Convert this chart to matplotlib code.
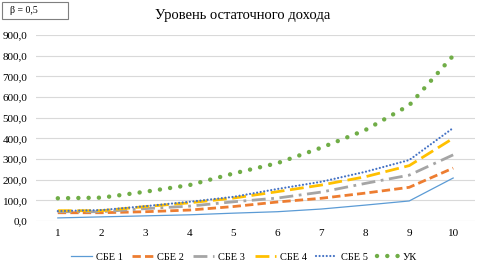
import matplotlib.pyplot as plt
import numpy as np

plt.rcParams['font.family'] = ['Liberation Serif', 'DejaVu Serif']

# --- данные ---
periods = [1, 2, 3, 4, 5, 6, 7, 8, 9, 10]
sbe1 = [15, 20, 25, 30, 38, 45, 58, 77, 97, 208]
sbe2 = [40, 40, 45, 53, 70, 92, 110, 135, 163, 256]
sbe3 = [45, 45, 60, 72, 93, 111, 140, 182, 222, 320]
sbe4 = [50, 50, 70, 88, 111, 142, 174, 214, 268, 400]
sbe5 = [48, 53, 72, 93, 117, 155, 190, 238, 295, 450]
uk = [110, 113, 142, 174, 230, 280, 355, 440, 560, 800]
y_ticks = [0, 100, 200, 300, 400, 500, 600, 700, 800, 900]

fig = plt.figure(figsize=(4.78, 2.65), dpi=100)
ax = fig.add_axes([0.075, 0.166, 0.919, 0.702])

x = np.arange(len(periods))
ax.plot(x, sbe1, color='#5B9BD5', lw=0.9, label='СБЕ 1')
ax.plot(x, sbe2, color='#ED7D31', lw=2.0, dashes=(3, 1.5), label='СБЕ 2')
ax.plot(x, sbe3, color='#A5A5A5', lw=2.0, dashes=(5, 2, 1, 2), label='СБЕ 3')
ax.plot(x, sbe4, color='#FFC000', lw=2.0, dashes=(5, 2), label='СБЕ 4')
ax.plot(x, sbe5, color='#4472C4', lw=1.6, dashes=(0.01, 1.6), dash_capstyle='round', label='СБЕ 5')
ax.plot(x, uk, color='#70AD47', lw=3.2, dashes=(0.01, 2.3), dash_capstyle='round', label='УК')

ax.set_xlim(-0.5, len(periods) - 0.5)
ax.set_ylim(0, 900)
ax.set_xticks(x)
ax.set_xticklabels([str(p) for p in periods], fontsize=8)
ax.set_yticks(y_ticks)
ax.set_yticklabels([f'{v:.1f}'.replace('.', ',') for v in y_ticks], fontsize=8)
ax.tick_params(length=0, pad=6)
ax.grid(axis='y', color='#D9D9D9', lw=0.8)
ax.set_axisbelow(True)
for s in ax.spines.values():
    s.set_visible(False)

fig.text(0.507, 0.94, 'Уровень остаточного дохода', ha='center', va='center', fontsize=10.5)
fig.text(0.02, 0.962, 'β = 0,5', ha='left', va='center', fontsize=7)
fig.patches.append(plt.Rectangle((0.004, 0.928), 0.138, 0.064, transform=fig.transFigure,
                                 fill=False, ec='#7F7F7F', lw=0.8))

fig.legend(loc='center', bbox_to_anchor=(0.51, 0.03), ncol=6, frameon=False, fontsize=7.5,
           handlelength=2.0, columnspacing=0.9, handletextpad=0.4)

fig.savefig('out.png', dpi=100)
